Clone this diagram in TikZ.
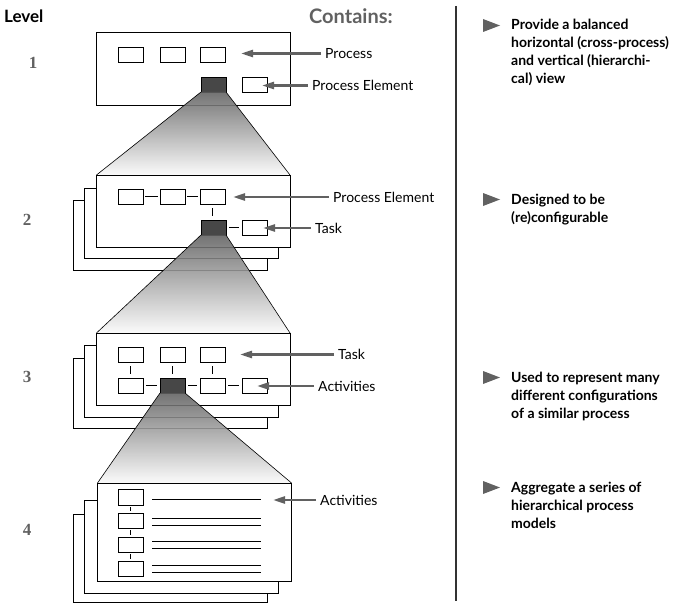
\documentclass[tikz,border=0pt]{standalone}
\usepackage{fontspec}
\setmainfont{Lato}
\newfontfamily\numfont{Liberation Serif}
\usetikzlibrary{arrows.meta}

\begin{document}
\begin{tikzpicture}[x=1pt,y=-1pt,
  sheet/.style={draw,line width=0.9pt,fill=white,inner sep=0pt,outer sep=0pt},
  cell/.style={draw,line width=0.8pt,fill=white,inner sep=0pt,outer sep=0pt,minimum width=25pt,minimum height=15pt},
  hot/.style={cell,fill=black!72},
  link/.style={line width=0.8pt},
  funnel/.style={top color=black!62,bottom color=black!2,fill opacity=0.88},
  pointer/.style={draw=black!62,line width=2.4pt,-{Triangle[length=12pt,width=7pt]}},
  tag/.style={anchor=west,inner sep=4pt,font=\fontsize{14}{16}\selectfont},
  lvl/.style={text=black!62,font=\numfont\bfseries\fontsize{17}{18}\selectfont},
  note/.style={anchor=base west,align=left,inner sep=0pt,font=\bfseries\fontsize{14}{18}\selectfont},
  bullet/.style={fill=black!62}]
 \useasboundingbox (0,0) rectangle (679,604);

 % headings and divider
 \node[anchor=west,inner sep=0pt,font=\bfseries\fontsize{17}{18}\selectfont] (level) at (4,16) {Level};
 \node[anchor=west,inner sep=0pt,text=black!62,font=\bfseries\fontsize{20}{22}\selectfont] (contains) at (309,16.5) {Contains:};
 \draw[black!80,line width=1.6pt] (456,6) -- (456,601);

 \node[lvl] (n1) at (33,62.5) {1};
 \node[lvl] (n2) at (27,219.5) {2};
 \node[lvl] (n3) at (27,376.5) {3};
 \node[lvl] (n4) at (27,529.5) {4};

 % level 1
 \node[sheet,minimum width=194,minimum height=73] (s1) at (193,68.5) {};
 \node[cell] (c11) at (130.5,54.5) {};
 \node[cell] (c12) at (172.5,54.5) {};
 \node[cell] (c13) at (213,54.5) {};
 \node[hot] (d1) at (213.5,84.5) {};
 \node[cell] (e1) at (255,84.5) {};
 \shade[funnel] (d1.south west) -- (d1.south east) -- (290,175) -- (96.5,175) -- cycle;

 % level 2
 \draw[sheet] (73,200) rectangle (267,270);
 \draw[sheet] (84,188) rectangle (278,258);
 \node[sheet,minimum width=193.5,minimum height=72] (s2) at (193.25,211) {};
 \draw[line width=0.6pt] (d1.south west) -- (s2.north west) (d1.south east) -- (s2.north east);
 \node[cell] (c21) at (130.5,196.5) {};
 \node[cell] (c22) at (172.5,196.5) {};
 \node[cell] (c23) at (212.5,196.5) {};
 \node[hot] (d2) at (213.5,227.5) {};
 \node[cell] (e2) at (254.5,227.5) {};
 \draw[link,shorten <=2pt,shorten >=2pt] (c21) -- (c22);
 \draw[link,shorten <=2pt,shorten >=2pt] (c22) -- (c23);
 \draw[link,shorten <=4pt,shorten >=4pt] (c23.south) -- (d2.north -| c23.south);
 \draw[link,shorten <=3pt,shorten >=3pt] (d2) -- (e2);
 \shade[funnel] (d2.south west) -- (d2.south east) -- (290,333) -- (96.5,333) -- cycle;

 % level 3
 \draw[sheet] (73,358) rectangle (267,428);
 \draw[sheet] (84,345) rectangle (278,417);
 \node[sheet,minimum width=193.5,minimum height=72] (s3) at (193.25,369) {};
 \draw[line width=0.6pt] (d2.south west) -- (s3.north west) (d2.south east) -- (s3.north east);
 \node[cell] (a31) at (130.5,354.5) {};
 \node[cell] (a32) at (172.5,354.5) {};
 \node[cell] (a33) at (212.5,354.5) {};
 \node[cell] (b31) at (130.5,385.5) {};
 \node[hot] (d3) at (172.5,385.5) {};
 \node[cell] (b33) at (212.5,385.5) {};
 \node[cell] (b34) at (254.5,385.5) {};
 \draw[link,shorten <=4pt,shorten >=4pt] (a31) -- (b31);
 \draw[link,shorten <=4pt,shorten >=4pt] (a32) -- (d3);
 \draw[link,shorten <=4pt,shorten >=4pt] (a33) -- (b33);
 \draw[link,shorten <=3pt,shorten >=3pt] (b31) -- (d3);
 \draw[link,shorten <=3pt,shorten >=3pt] (d3) -- (b33);
 \draw[link,shorten <=3pt,shorten >=3pt] (b33) -- (b34);
 \shade[funnel] (d3.south west) -- (d3.south east) -- (291.5,483) -- (97.5,483) -- cycle;

 % level 4
 \draw[sheet] (73,514) rectangle (267,602.5);
 \draw[sheet] (84,500) rectangle (278,593);
 \node[sheet,minimum width=194,minimum height=98] (s4) at (194.5,532) {};
 \draw[line width=0.6pt] (d3.south west) -- (s4.north west) (d3.south east) -- (s4.north east);
 \node[cell,minimum height=16pt] (f41) at (130.5,497) {};
 \node[cell] (f42) at (130.5,520.5) {};
 \node[cell] (f43) at (130.5,544.5) {};
 \node[cell] (f44) at (130.5,568.5) {};
 \draw[link,shorten <=2pt,shorten >=2pt] (f41) -- (f42);
 \draw[link,shorten <=2pt,shorten >=2pt] (f42) -- (f43);
 \draw[link,shorten <=2pt,shorten >=2pt] (f43) -- (f44);
 \draw[line width=0.9pt] (152,499.5) -- (261,499.5);
 \draw[line width=0.9pt] (152,518) -- (261,518) (152,525) -- (261,525);
 \draw[line width=0.9pt] (152,541) -- (261,541) (152,548) -- (261,548);
 \draw[line width=0.9pt] (152,565) -- (261,565) (152,572) -- (261,572);

 % what each level contains
 \node[tag] (t1a) at (321,53.5) {Process};
 \node[tag] (t1b) at (308,85.5) {Process Element};
 \node[tag] (t2a) at (329,197) {Process Element};
 \node[tag] (t2b) at (311,228) {Task};
 \node[tag] (t3a) at (334,354.5) {Task};
 \node[tag] (t3b) at (314,386) {Activities};
 \node[tag] (t4a) at (316,500) {Activities};
 \coordinate (p1a) at (241,53.5);
 \coordinate (p1b) at (262,85.5);
 \coordinate (p2a) at (233,197);
 \coordinate (p2b) at (263,228);
 \coordinate (p3a) at (240,354.5);
 \coordinate (p3b) at (257,386);
 \coordinate (p4a) at (273,500);
 \draw[pointer] (t1a.west) -- (p1a);
 \draw[pointer] (t1b.west) -- (p1b);
 \draw[pointer] (t2a.west) -- (p2a);
 \draw[pointer] (t2b.west) -- (p2b);
 \draw[pointer] (t3a.west) -- (p3a);
 \draw[pointer] (t3b.west) -- (p3b);
 \draw[pointer] (t4a.west) -- (p4a);

 % properties (base of a note is its last line)
 \fill[bullet] (483,19) -- (500,25.5) -- (483,32) -- cycle;
 \fill[bullet] (483,193) -- (500,199.5) -- (483,206) -- cycle;
 \fill[bullet] (483,371) -- (500,377.5) -- (483,384) -- cycle;
 \fill[bullet] (483,481) -- (500,487.5) -- (483,494) -- cycle;
 \node[note] (r1) at (511,84) {Provide a balanced\\horizontal (cross-process)\\and vertical (hierarchi-\\cal) view};
 \node[note] (r2) at (511,222) {Designed to be\\(re)configurable};
 \node[note] (r3) at (511,418) {Used to represent many\\different configurations\\of a similar process};
 \node[note] (r4) at (511,528) {Aggregate a series of\\hierarchical process\\models};
\end{tikzpicture}
\end{document}
